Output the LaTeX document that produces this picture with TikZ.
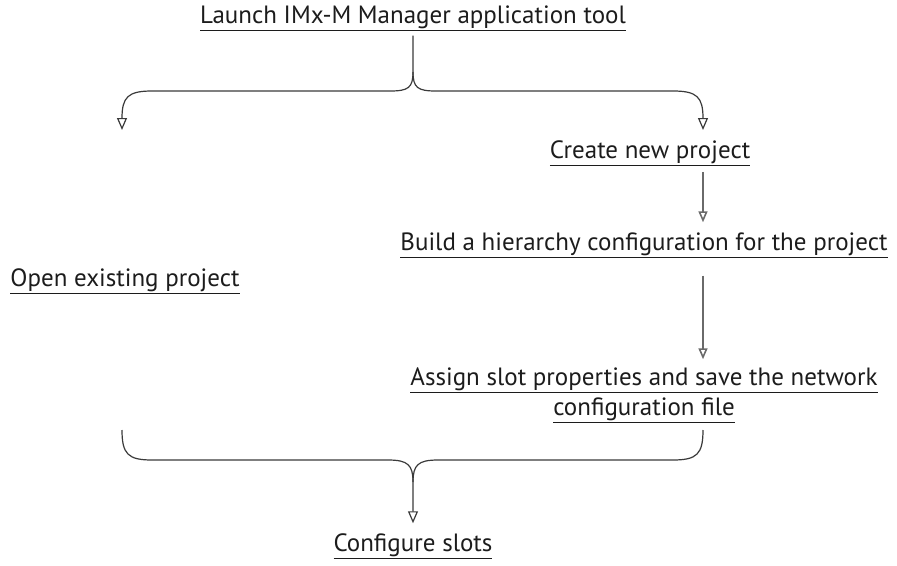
\documentclass[tikz,border=0pt]{standalone}
\usepackage{fontspec}
\setmainfont{PT Sans}
\usetikzlibrary{
  arrows.meta,
  positioning
}
\definecolor{ink}{HTML}{1C1C1C}
\definecolor{wire}{HTML}{3A3A3A}
\definecolor{stem}{HTML}{6A6A6A}
\newcommand{\ul}[1]{\underline{#1}}
\tikzset{
  steptext/.style={
    font=\fontsize{25}{30}\selectfont,
    text=ink,
    inner sep=0pt,
    align=center
  },
  branch/.style={
    -{Triangle[open,length=12pt,width=10pt]},
    line width=1.2pt,
    draw=wire
  },
  brace/.style={
    line width=1.2pt,
    draw=wire
  },
  stemarrow/.style={
    -{Triangle[open,length=11pt,width=9pt]},
    line width=1.6pt,
    draw=stem
  }
}

\begin{document}
\begin{tikzpicture}[x=1pt,y=-1pt]
  \useasboundingbox (0,0) rectangle (897,565);

  \node[steptext] (launch) at (413,18) {\ul{Launch IMx-M Manager application tool}};
  \node[steptext] (create) at (650,153) {\ul{Create new project}};
  \node[steptext] (build) at (644,245) {\ul{Build a hierarchy configuration for the project}};
  \node[steptext] (open) at (125,281) {\ul{Open existing project}};
  \node[steptext] (assign) at (644,395) {\ul{Assign slot properties and save the network}\\
    \ul{configuration file}};
  \node[steptext] (configure) at (413,546) {\ul{Configure slots}};

  \coordinate (lefttip) at (122,130);
  \coordinate (righttip) at (703,130);
  \coordinate (leftend) at (122,430);
  \coordinate (rightend) at (703,430);

  % split after launch
  \draw[branch] ([yshift=-5pt]launch.south) -- (413,72)
    .. controls (413,88) and (408,91) .. (390,91) -- (152,91)
    .. controls (128,91) and (122,97) .. (lefttip);
  \draw[branch] (413,72)
    .. controls (413,88) and (418,91) .. (436,91) -- (673,91)
    .. controls (697,91) and (703,97) .. (righttip);

  % new project steps
  \draw[stemarrow] ([yshift=-6pt]create.south -| righttip) -- ([yshift=10pt]build.north -| righttip);
  \draw[stemarrow] ([yshift=-18pt]build.south -| righttip) -- ([yshift=8pt]assign.north -| righttip);

  % join into configure
  \draw[branch] (leftend)
    .. controls (122,454) and (128,460) .. (152,460) -- (388,460)
    .. controls (408,460) and (413,465) .. (413,482) -- ([yshift=10pt]configure.north);
  \draw[brace] (rightend)
    .. controls (703,454) and (697,460) .. (673,460) -- (438,460)
    .. controls (418,460) and (413,465) .. (413,482);
\end{tikzpicture}
\end{document}
